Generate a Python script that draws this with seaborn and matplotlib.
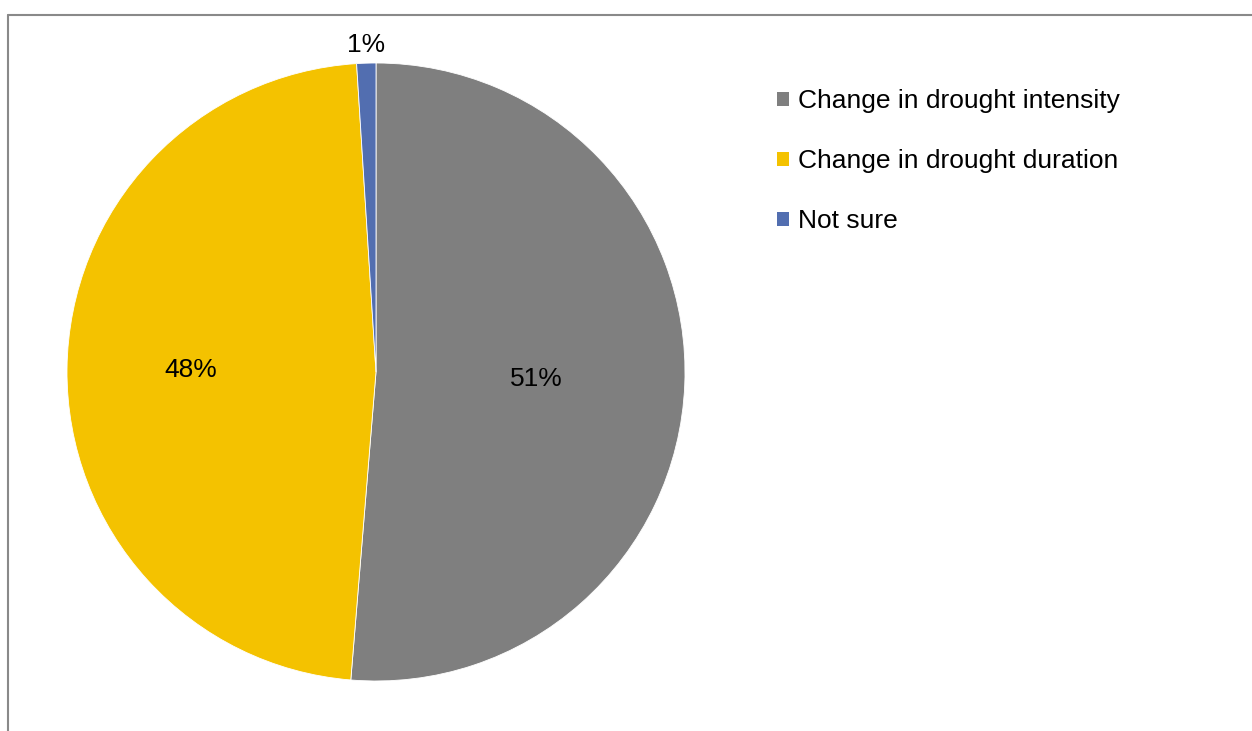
#!/usr/bin/env python3

import numpy as np
from matplotlib import pyplot as plt
from matplotlib.patches import Patch
from matplotlib.lines import Line2D
import seaborn as sns

categories = ["Change in drought intensity", "Change in drought duration", "Not sure"]
shares = [51.3, 47.7, 1.0]
label_texts = ["51%", "48%", "1%"]
label_dist = [0.52, 0.6, 1.06]
colors = ["#7f7f7f", "#f4c200", "#526eb0"]

W, H = 1252, 731


def main():
    sns.set_theme(style="white")
    plt.rcParams["font.family"] = ["Liberation Sans", "DejaVu Sans"]
    fig = plt.figure(figsize=(W / 100, H / 100), dpi=100)

    # pie placed so its centre / radius match the reference
    cx, cy, r = 376, 372, 309
    ax = fig.add_axes([(cx - r) / W, (H - cy - r) / H, 2 * r / W, 2 * r / H])
    wedges, _ = ax.pie(
        shares,
        colors=colors,
        startangle=90,
        counterclock=False,
        radius=1,
        wedgeprops={"edgecolor": "white", "linewidth": 0.6},
    )
    ax.set_xlim(-1, 1)
    ax.set_ylim(-1, 1)
    ax.set_axis_off()

    for w, txt, d in zip(wedges, label_texts, label_dist):
        mid = np.deg2rad((w.theta1 + w.theta2) / 2)
        ax.text(d * np.cos(mid), d * np.sin(mid), txt, ha="center", va="center",
                fontsize=19, color="black", clip_on=False)

    handles = [Patch(facecolor=c, edgecolor="none") for c in colors]
    fig.legend(
        handles, categories,
        loc="upper left",
        bbox_to_anchor=(777 / W, (H - 89) / H),
        frameon=False,
        fontsize=19,
        labelcolor="black",
        handlelength=0.45,
        handleheight=0.45,
        handletextpad=0.35,
        labelspacing=1.37,
        borderpad=0,
        borderaxespad=0,
    )

    # chart-area border (left and top edges visible)
    fig.add_artist(Line2D([8 / W, 8 / W], [0, (H - 15) / H], color="#898989", lw=1.5))
    fig.add_artist(Line2D([8 / W, 1], [(H - 15) / H, (H - 15) / H], color="#898989", lw=1.5))

    fig.savefig("out.png", dpi=100)


if __name__ == "__main__":
    main()
